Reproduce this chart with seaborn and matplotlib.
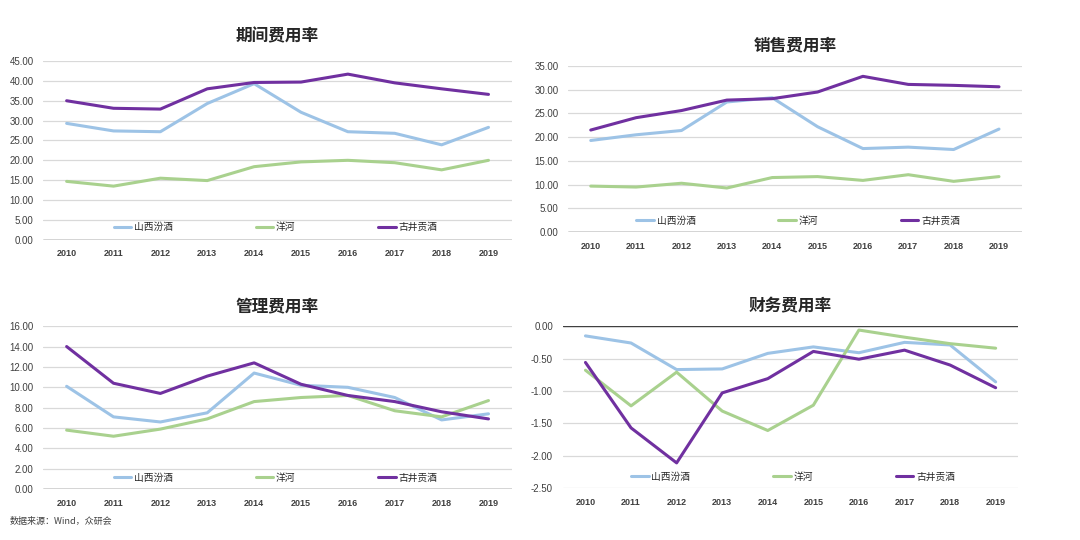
import numpy as np
import pandas as pd
import matplotlib
matplotlib.use("Agg")
import matplotlib.pyplot as plt
import seaborn as sns

sns.set_theme(style="white")
plt.rcParams["font.family"] = ["Liberation Sans", "Noto Sans CJK SC", "DejaVu Sans"]

years = ["2010", "2011", "2012", "2013", "2014", "2015", "2016", "2017", "2018", "2019"]
companies = ["山西汾酒", "洋河", "古井贡酒"]

# 期间费用率
period_fenjiu = [29.3, 27.4, 27.2, 34.3, 39.3, 32.1, 27.2, 26.8, 23.9, 28.3]
period_yanghe = [14.7, 13.5, 15.5, 14.9, 18.4, 19.6, 20.0, 19.4, 17.6, 20.0]
period_gujing = [35.0, 33.1, 32.9, 38.0, 39.6, 39.7, 41.7, 39.5, 38.0, 36.6]

# 销售费用率
sales_fenjiu = [19.3, 20.5, 21.4, 27.4, 28.3, 22.2, 17.6, 17.9, 17.4, 21.7]
sales_yanghe = [9.7, 9.5, 10.3, 9.3, 11.5, 11.7, 10.9, 12.1, 10.7, 11.7]
sales_gujing = [21.5, 24.1, 25.6, 27.8, 28.1, 29.5, 32.8, 31.1, 30.9, 30.6]

# 管理费用率
admin_fenjiu = [10.1, 7.1, 6.6, 7.5, 11.4, 10.2, 10.0, 9.0, 6.8, 7.4]
admin_yanghe = [5.8, 5.2, 5.9, 6.9, 8.6, 9.0, 9.2, 7.7, 7.1, 8.7]
admin_gujing = [14.0, 10.4, 9.4, 11.1, 12.4, 10.3, 9.2, 8.6, 7.6, 6.9]

# 财务费用率
fin_fenjiu = [-0.15, -0.26, -0.67, -0.66, -0.42, -0.32, -0.41, -0.25, -0.29, -0.86]
fin_yanghe = [-0.68, -1.23, -0.71, -1.31, -1.61, -1.22, -0.06, -0.17, -0.27, -0.34]
fin_gujing = [-0.56, -1.57, -2.11, -1.03, -0.81, -0.39, -0.51, -0.37, -0.60, -0.95]

colors = {"山西汾酒": "#9DC3E6", "洋河": "#A9D18E", "古井贡酒": "#7030A0"}
cjk = ["Noto Sans CJK SC", "DejaVu Sans"]


def make_df(a, b, c):
    rows = []
    for name, vals in zip(companies, [a, b, c]):
        for i, v in enumerate(vals):
            rows.append({"x": i, "year": years[i], "company": name, "value": v})
    return pd.DataFrame(rows)


panels = [
    ("期间费用率", make_df(period_fenjiu, period_yanghe, period_gujing),
     [0.040, 0.556, 0.434, 0.331], np.arange(0, 45.01, 5), 14),
    ("销售费用率", make_df(sales_fenjiu, sales_yanghe, sales_gujing),
     [0.526, 0.570, 0.420, 0.308], np.arange(0, 35.01, 5), 11),
    ("管理费用率", make_df(admin_fenjiu, admin_yanghe, admin_gujing),
     [0.040, 0.094, 0.434, 0.302], np.arange(0, 16.01, 2), 11),
    ("财务费用率", make_df(fin_fenjiu, fin_yanghe, fin_gujing),
     [0.521, 0.096, 0.422, 0.300], np.arange(-2.5, 0.01, 0.5), 11),
]

fig = plt.figure(figsize=(10.8, 5.4), dpi=100)

for title, df, rect, yticks, pad in panels:
    ax = fig.add_axes(rect)
    sns.lineplot(data=df, x="x", y="value", hue="company", palette=colors,
                 linewidth=2.2, ax=ax, legend=False)
    ax.set_xlim(-0.5, 9.5)
    ax.set_ylim(yticks[0], yticks[-1])
    ax.set_yticks(yticks)
    ax.set_yticklabels([f"{t:.2f}" for t in yticks])
    ax.set_xticks(range(len(years)))
    ax.set_xticklabels(years)
    ax.set_xlabel("")
    ax.set_ylabel("")
    for t in yticks:
        ax.axhline(t, color="#D9D9D9", linewidth=0.9, zorder=0)
    for s in ax.spines.values():
        s.set_visible(False)
    if yticks[-1] == 0:
        ax.axhline(0, color="#404040", linewidth=1.0, zorder=1)
    else:
        ax.axhline(yticks[0], color="#404040", linewidth=1.0, zorder=1)
    ax.tick_params(axis="y", length=0, labelsize=7, labelcolor="#404040", pad=7)
    ax.tick_params(axis="x", length=0, labelsize=6.5, labelcolor="#404040", pad=7)
    for lab in ax.get_xticklabels():
        lab.set_fontweight("bold")
    ax.set_title(title, fontsize=12, fontweight="bold", family=cjk, pad=pad)
    handles = [plt.Line2D([], [], color=colors[c], linewidth=2.2) for c in companies]
    ax.legend(handles, companies, loc="center left", bbox_to_anchor=(0.15, 0.07),
              ncol=3, frameon=False, handlelength=1.8, handletextpad=0.3,
              columnspacing=8.5, borderpad=0, borderaxespad=0,
              prop={"family": cjk, "size": 7})

fig.text(0.009, 0.03, "数据来源：Wind，众研会", fontsize=6.5, family=cjk, color="#404040")

fig.savefig("out.png", dpi=100)
